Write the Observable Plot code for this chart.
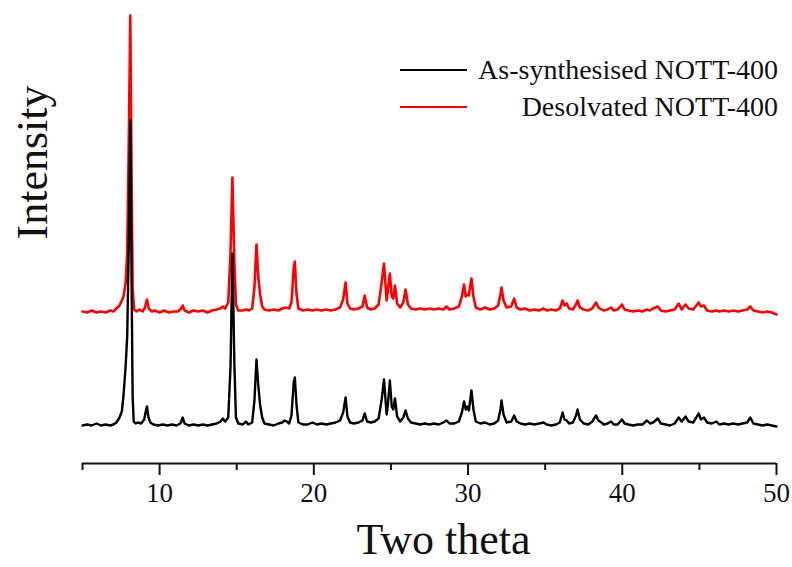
<!DOCTYPE html>
<html>
<head>
<meta charset="utf-8">
<script src="https://cdn.jsdelivr.net/npm/d3@7"></script>
<script src="https://cdn.jsdelivr.net/npm/@observablehq/plot@0.6"></script>
<style>
  html, body { margin: 0; padding: 0; background: #fff; }
  #wrap { position: relative; width: 792px; height: 567px; font-family: "Liberation Serif", "Times New Roman", serif; }
  #legend { position: absolute; left: 400px; top: 51px; width: 378px; font-size: 28px; color: #111; }
  #legend .row { display: flex; align-items: center; height: 37px; }
  #legend .sw { width: 67px; height: 0; border-top: 2.5px solid; }
  #legend .lab { flex: 1; text-align: right; white-space: nowrap; }
</style>
</head>
<body>
<div id="wrap"><div id="legend"></div></div>
<script>
// Series names and colours
const seriesNames = ["As-synthesised NOTT-400", "Desolvated NOTT-400"];
const seriesColors = ["#000000", "#ff0000"];

// As-synthesised pattern: [2θ, intensity above its baseline]
const asSynth = [
  [5.0,0],[5.3,1],[5.6,0],[5.9,2],[6.2,0],[6.5,1],[6.8,0],[7.0,1],[7.2,3],[7.4,8],[7.55,14],[7.66,30],[7.8,60],[7.9,90],[8.0,180],[8.1,305],[8.18,150],[8.25,30],[8.32,4],[8.45,2],[8.6,3],[8.8,2],
  [9.0,6],[9.1,14],[9.18,19],[9.28,8],[9.4,3],[9.6,1],[9.9,0],[10.2,1],[10.5,0],[10.8,1],[11.1,0],[11.35,2],[11.5,8],[11.62,2],[11.9,0],[12.2,1],[12.5,0],[12.8,1],[13.1,0],[13.4,1],[13.7,2],[13.95,4],[14.1,7],[14.25,4],[14.45,8],
  [14.6,60],[14.72,172],[14.85,60],[14.95,8],[15.1,2],[15.4,1],[15.6,4],[15.75,1],[16.0,3],[16.15,25],[16.28,66],[16.4,40],[16.52,20],[16.65,8],[16.8,2],[17.1,1],[17.4,0],[17.7,2],[17.95,3],[18.1,5],[18.25,4],[18.4,2],
  [18.55,10],[18.7,44],[18.77,48],[18.88,20],[19.0,3],[19.3,1],[19.6,1],[19.9,3],[20.2,1],[20.5,2],[20.8,1],[21.1,2],[21.4,3],[21.7,5],[21.9,13],[22.06,28],[22.18,9],[22.35,3],[22.6,2],[22.9,3],[23.15,5],[23.3,12],[23.45,4],
  [23.7,3],[23.95,4],[24.2,7],[24.4,26],[24.55,46],[24.72,11],[24.8,21],[24.93,45],[25.05,19],[25.15,16],[25.26,27],[25.4,9],[25.6,4],[25.8,8],[25.95,15],[26.1,7],[26.3,3],[26.6,2],[26.9,1],[27.2,2],[27.5,1],[27.8,2],
  [28.1,1],[28.4,3],[28.6,5],[28.8,2],[29.1,2],[29.4,4],[29.6,13],[29.74,24],[29.85,16],[29.95,19],[30.05,15],[30.22,35],[30.35,16],[30.5,4],[30.8,2],[31.1,3],[31.4,1],[31.7,2],[31.95,5],[32.1,16],[32.17,25],[32.3,11],
  [32.5,3],[32.8,4],[32.99,10],[33.15,4],[33.4,2],[33.7,1],[34.0,2],[34.3,1],[34.6,2],[34.9,3],[35.1,1],[35.4,0],[35.7,1],[35.95,3],[36.13,13],[36.25,6],[36.4,5],[36.55,2],[36.8,3],[37.0,10],[37.1,16],[37.25,6],[37.5,2],
  [37.8,1],[38.05,4],[38.3,10],[38.45,5],[38.65,3],[38.8,1],[39.05,2],[39.27,4],[39.45,1],[39.7,1],[39.98,6],[40.15,2],[40.4,1],[40.7,0],[41.0,1],[41.3,1],[41.6,5],[41.8,2],[42.0,3],[42.3,7],[42.5,2],[42.8,1],[43.1,0],
  [43.4,2],[43.66,8],[43.85,4],[44.1,9],[44.3,4],[44.6,3],[44.96,12],[45.1,6],[45.3,8],[45.5,3],[45.8,2],[46.1,4],[46.3,1],[46.6,2],[46.9,1],[47.2,2],[47.5,1],[47.8,2],[48.1,3],[48.3,8],[48.5,2],[48.8,1],[49.1,0],[49.4,1],
  [49.7,0],[50.0,-1]
];

// Desolvated pattern: [2θ, intensity above its baseline]
const desolv = [
  [5.0,1],[5.3,0],[5.6,2],[5.9,0],[6.2,1],[6.5,0],[6.8,2],[7.0,1],[7.2,4],[7.4,7],[7.55,12],[7.66,16],[7.8,30],[7.9,60],[8.0,170],[8.1,297],[8.18,140],[8.25,25],[8.35,3],[8.5,1],[8.7,3],[8.9,1],
  [9.05,5],[9.18,13],[9.3,4],[9.5,1],[9.7,2],[10.0,0],[10.3,2],[10.6,0],[10.9,1],[11.2,1],[11.4,4],[11.5,7],[11.62,2],[11.9,0],[12.2,2],[12.5,1],[12.8,2],[13.1,0],[13.4,2],[13.7,3],[13.95,4],[14.1,6],[14.25,4],[14.45,10],
  [14.6,60],[14.72,135],[14.85,50],[14.95,8],[15.1,2],[15.4,2],[15.6,3],[15.8,2],[16.0,4],[16.15,25],[16.28,68],[16.4,35],[16.52,18],[16.65,6],[16.8,3],[17.1,2],[17.4,3],[17.7,2],[17.95,4],[18.2,5],[18.4,4],
  [18.55,10],[18.7,45],[18.77,51],[18.88,18],[19.0,4],[19.3,2],[19.6,3],[19.9,2],[20.2,3],[20.5,2],[20.8,3],[21.1,2],[21.4,3],[21.7,5],[21.9,13],[22.06,30],[22.18,9],[22.35,4],[22.6,3],[22.9,4],[23.15,6],[23.3,17],[23.45,5],
  [23.7,3],[23.95,4],[24.2,8],[24.4,30],[24.55,49],[24.72,12],[24.8,22],[24.93,39],[25.05,16],[25.15,14],[25.26,27],[25.4,9],[25.6,5],[25.8,10],[25.95,23],[26.1,8],[26.3,4],[26.6,3],[26.9,4],[27.2,3],[27.5,4],[27.8,3],
  [28.1,4],[28.4,3],[28.6,6],[28.8,3],[29.1,4],[29.4,6],[29.6,16],[29.74,28],[29.85,16],[29.95,18],[30.05,17],[30.22,34],[30.35,16],[30.5,5],[30.8,3],[31.1,5],[31.4,3],[31.7,4],[31.95,7],[32.1,18],[32.17,25],[32.3,12],
  [32.5,5],[32.8,6],[32.99,14],[33.15,5],[33.4,3],[33.7,4],[34.0,2],[34.3,3],[34.6,2],[34.9,4],[35.1,2],[35.4,3],[35.7,2],[35.95,4],[36.13,12],[36.25,7],[36.4,9],[36.55,4],[36.8,3],[37.0,8],[37.1,12],[37.25,5],[37.5,3],
  [37.8,2],[38.05,4],[38.3,10],[38.45,5],[38.65,3],[38.8,2],[39.05,3],[39.27,5],[39.45,2],[39.7,3],[39.98,8],[40.15,3],[40.4,2],[40.7,1],[41.0,2],[41.3,1],[41.6,3],[41.8,2],[42.0,4],[42.3,6],[42.5,2],[42.8,1],[43.1,2],
  [43.4,3],[43.66,9],[43.85,3],[44.1,8],[44.3,4],[44.6,3],[44.96,10],[45.1,6],[45.3,7],[45.5,2],[45.8,1],[46.1,2],[46.3,1],[46.6,2],[46.9,1],[47.2,2],[47.5,1],[47.8,2],[48.1,3],[48.3,6],[48.5,2],[48.8,1],[49.1,0],[49.4,1],
  [49.7,0],[50.0,-2]
];

// Vertical stacking offset of the desolvated trace (intensity units)
const stackOffset = 113;

const majorTicks = [10, 20, 30, 40, 50];
const minorTicks = [5, 15, 25, 35, 45];
const xLabel = "Two theta";
const yLabel = "Intensity";

const rows = [
  ...desolv.map(([t, v]) => ({theta: t, I: v + stackOffset, s: seriesNames[1]})),
  ...asSynth.map(([t, v]) => ({theta: t, I: v, s: seriesNames[0]}))
];

const font = '"Liberation Serif", "Times New Roman", serif';

const chart = Plot.plot({
  width: 792,
  height: 567,
  marginLeft: 82,
  marginRight: 16,
  marginTop: 15,
  marginBottom: 104,
  style: {fontFamily: font, background: "#fff", color: "#111", overflow: "visible"},
  x: {domain: [5, 50]},
  y: {domain: [-38, 410], axis: null},
  color: {domain: seriesNames, range: seriesColors},
  marks: [
    Plot.line(rows.filter(d => d.s === seriesNames[1]), {x: "theta", y: "I", stroke: "s", strokeWidth: 2.6, curve: "linear"}),
    Plot.line(rows.filter(d => d.s === seriesNames[0]), {x: "theta", y: "I", stroke: "s", strokeWidth: 2.4, curve: "linear"}),
    Plot.ruleY([-38], {stroke: "#111", strokeWidth: 2}),
    Plot.axisX({ticks: majorTicks, tickSize: 12, tickPadding: 7, fontSize: 27, strokeWidth: 2, label: null}),
    Plot.axisX({ticks: minorTicks, tickSize: 7, tickFormat: () => "", strokeWidth: 2, label: null}),
    Plot.text([xLabel], {frameAnchor: "bottom", dx: 14, dy: 90, lineAnchor: "bottom", fontSize: 44, fill: "#111"}),
    Plot.text([yLabel], {frameAnchor: "left", dx: -50, rotate: -90, fontSize: 44, fill: "#111"})
  ]
});

// force the serif face on every text node of the chart
chart.querySelectorAll("text, g").forEach(el => {
  el.style.fontFamily = font;
  el.style.fontVariant = "normal";
});

const wrap = document.getElementById("wrap");
wrap.insertBefore(chart, wrap.firstChild);

const legend = document.getElementById("legend");
seriesNames.forEach((n, i) => {
  const row = document.createElement("div");
  row.className = "row";
  const sw = document.createElement("span");
  sw.className = "sw";
  sw.style.borderTopColor = seriesColors[i];
  const lab = document.createElement("span");
  lab.className = "lab";
  lab.textContent = n;
  row.appendChild(sw);
  row.appendChild(lab);
  legend.appendChild(row);
});
</script>
</body>
</html>
